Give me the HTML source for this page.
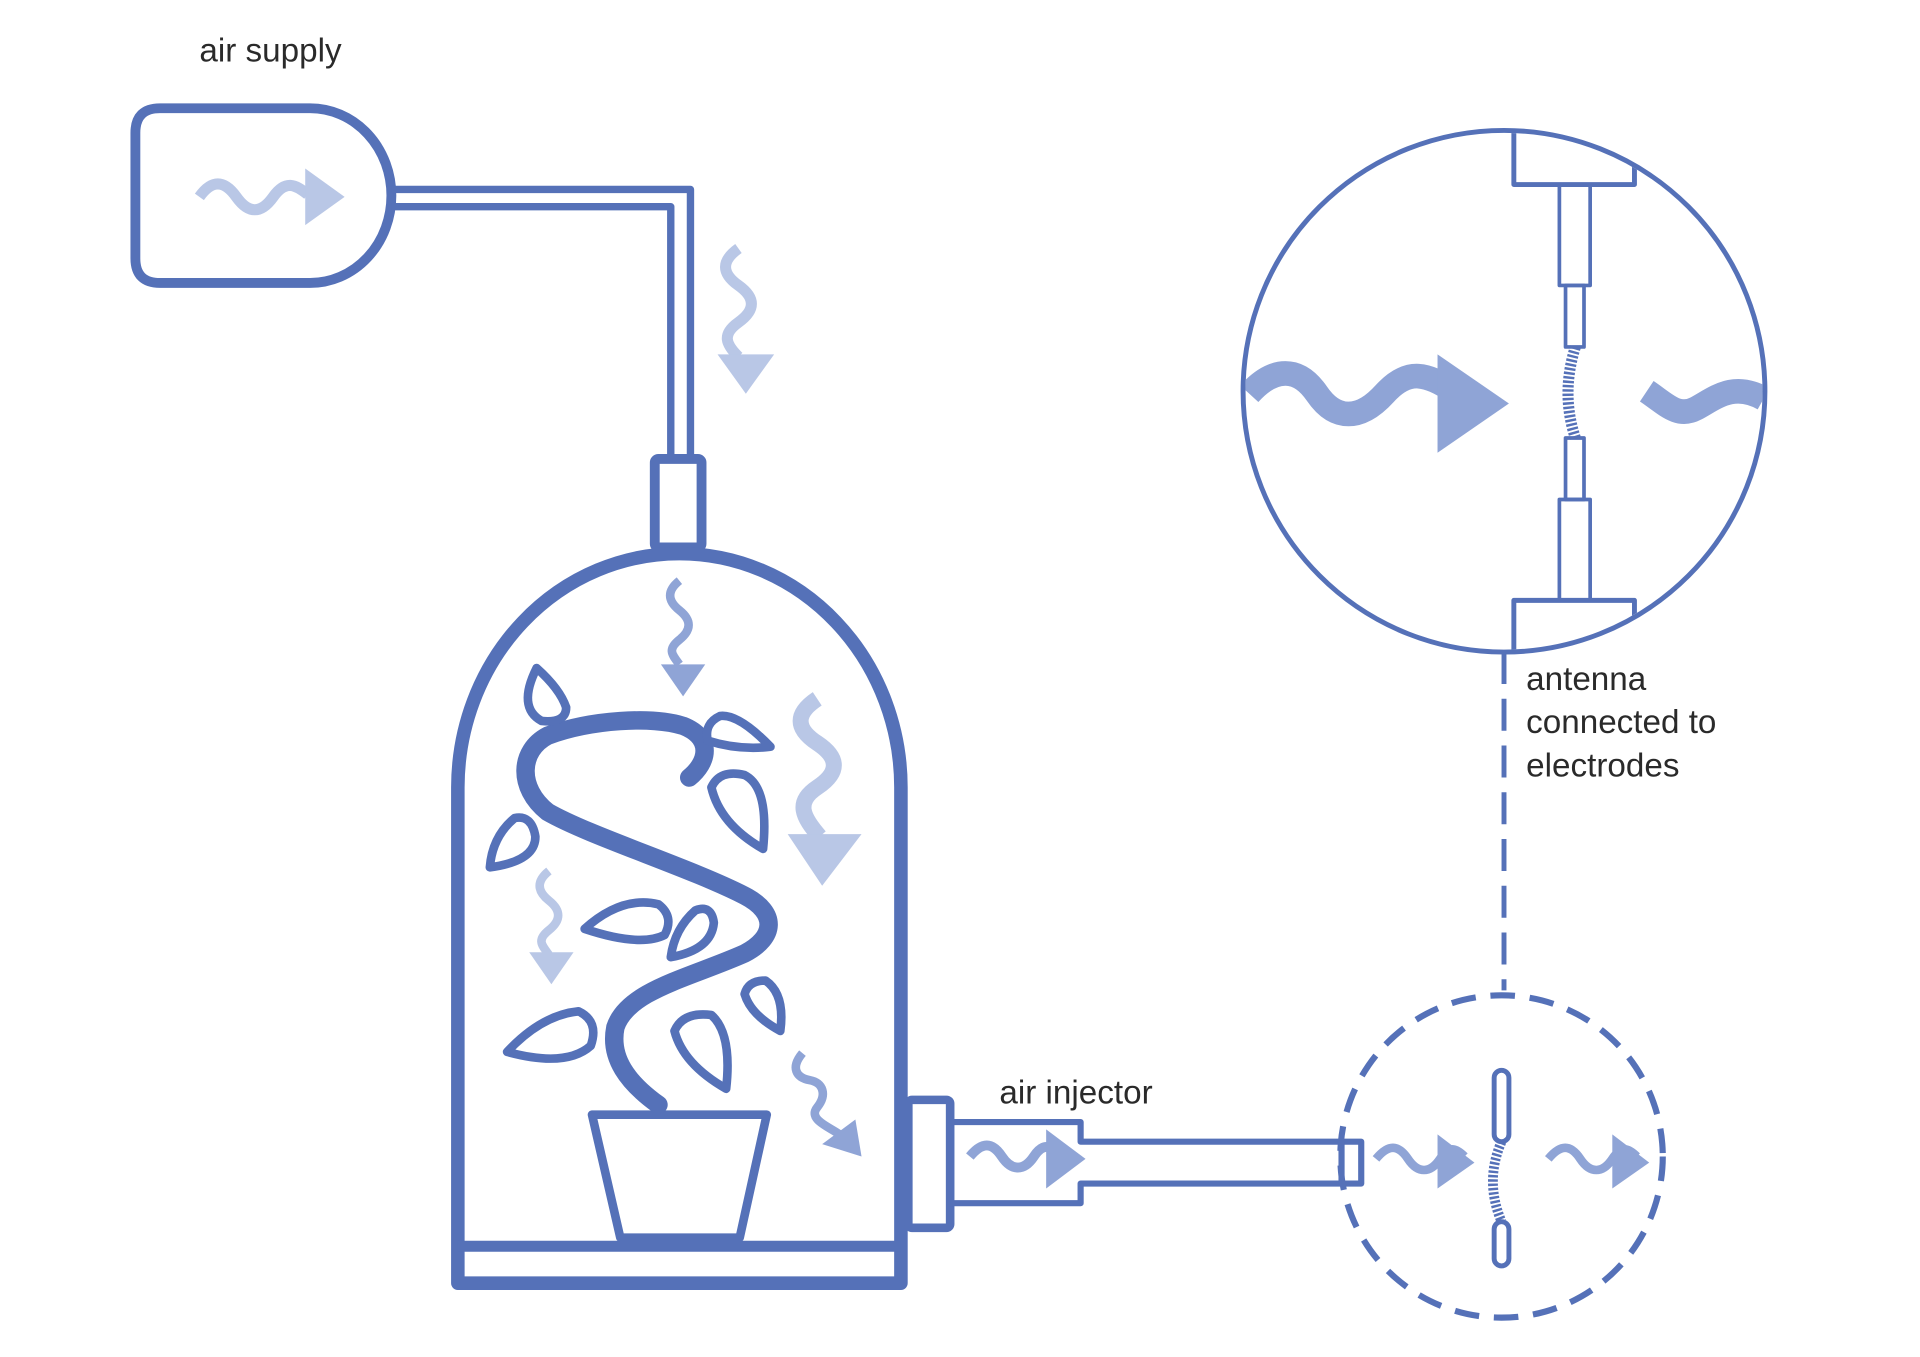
<!DOCTYPE html>
<html><head><meta charset="utf-8"><style>
html,body{margin:0;padding:0;background:#fff;}
svg{display:block;}
text{font-family:"Liberation Sans",Arial,sans-serif;fill:#2a2a2a;font-size:27px;}
</style></head><body>
<svg width="1920" height="1357" viewBox="0 0 1560 1103" preserveAspectRatio="none" xmlns="http://www.w3.org/2000/svg">
<defs><clipPath id="bc"><circle cx="1222" cy="318" r="210"/></clipPath></defs>
<g fill="none" stroke="#5571b8" stroke-linejoin="round">
<path d="M130 88 H252 A66 71 0 0 1 318 159 A66 71 0 0 1 252 230 H130 Q110 230 110 210 V108 Q110 88 130 88Z" stroke-width="8"/>
<path d="M318 154 H561 V372" stroke-width="6"/>
<path d="M318 168 H545 V372" stroke-width="6"/>
<rect x="532" y="373" width="38" height="72" rx="3" stroke-width="8"/>
<path d="M372 1043 V640 A180 190 0 0 1 732 640 V1043 Z" stroke-width="11"/>
<line x1="372" y1="1013" x2="732" y2="1013" stroke-width="9"/>
<path d="M481 906 H623 L601 1006 H504 Z" stroke-width="7"/>
<path d="M535 898 C510 880 495 860 500 835 C510 805 560 795 605 775 C630 762 632 742 605 728 C560 705 480 680 445 660 C420 640 422 610 445 598 C480 585 530 582 555 590 C580 600 575 620 560 632" stroke-width="15" stroke-linecap="round"/>
<g stroke-width="7">
<path d="M436 543 Q420 575 440 586 Q460 588 460 575 Q455 560 436 543Z"/>
<path d="M626 607 Q600 580 585 582 Q572 588 575 602 Q600 610 626 607Z"/>
<path d="M620 690 Q625 640 605 630 Q585 625 578 640 Q585 670 620 690Z"/>
<path d="M398 705 Q435 700 435 680 Q432 662 418 665 Q400 680 398 705Z"/>
<path d="M475 755 Q520 770 540 760 Q548 745 535 735 Q505 728 475 755Z"/>
<path d="M545 778 Q578 772 580 750 Q578 735 565 740 Q548 755 545 778Z"/>
<path d="M634 838 Q638 808 622 797 Q608 797 605 808 Q610 825 634 838Z"/>
<path d="M412 855 Q460 868 480 850 Q487 830 470 822 Q440 825 412 855Z"/>
<path d="M590 885 Q595 840 578 825 Q555 822 548 838 Q555 865 590 885Z"/>
</g>
<rect x="738" y="894" width="34" height="104" rx="3" stroke-width="7"/>
<path d="M772 912 H878 V928 H1106 V962 H878 V978 H772" stroke-width="5"/>
<line x1="1090" y1="928" x2="1090" y2="962" stroke-width="5"/>
<circle cx="1220" cy="940" r="131" stroke-width="5" stroke-dasharray="20 12"/>
<line x1="1222" y1="530" x2="1222" y2="805" stroke-width="4" stroke-dasharray="26 12"/>
<rect x="1214" y="870" width="12" height="58" rx="6" stroke-width="4"/>
<rect x="1214" y="993" width="12" height="36" rx="6" stroke-width="4"/>
<path d="M1220 928 Q1206 960 1220 993" stroke-width="8" stroke-dasharray="2 1.5"/>
<circle cx="1222" cy="318" r="212" stroke-width="4"/>
<g clip-path="url(#bc)" stroke-width="4">
<rect x="1230" y="90" width="98" height="60"/>
<rect x="1230" y="488" width="98" height="60"/>
</g>
<g stroke-width="3">
<rect x="1267" y="150" width="25" height="82"/>
<rect x="1272" y="232" width="15" height="50"/>
<rect x="1267" y="406" width="25" height="82"/>
<rect x="1272" y="356" width="15" height="50"/>
<path d="M1280 282 Q1268 320 1280 356" stroke-width="9" stroke-dasharray="2 1.5"/>
</g>
</g>
<g fill="none" stroke-linecap="butt">
<path d="M162 160 c10 -14 20 -14 30 0 s20 14 30 0 s18 -10 28 -2" stroke="#b9c7e6" stroke-width="9"/>
<path d="M600 202 c-14 10 -14 20 0 30 s14 20 0 30 s-10 18 0 28" stroke="#b9c7e6" stroke-width="9"/>
<path d="M552 472 c-10 8 -10 16 0 24 s10 16 0 24 s-6 12 0 20" stroke="#8fa4d6" stroke-width="7"/>
<path d="M664 568 c-18 12 -18 24 0 36 s18 24 0 36 s-12 24 2 40" stroke="#b9c7e6" stroke-width="13"/>
<path d="M446 708 c-10 8 -10 16 0 24 s10 16 0 24 s-6 12 0 20" stroke="#b9c7e6" stroke-width="7"/>
<path d="M652 856 c-10 12 -5 20 6 22 s14 12 6 22 s10 16 18 22" stroke="#8fa4d6" stroke-width="7"/>
<path d="M788 940 c10 -12 18 -12 26 0 s18 12 26 0 s14 -8 20 -2" stroke="#8fa4d6" stroke-width="8"/>
<path d="M1118 942 c10 -12 18 -12 26 0 s18 12 26 0 s14 -8 20 -2" stroke="#8fa4d6" stroke-width="7"/>
<path d="M1258 942 c10 -12 18 -12 26 0 s18 12 26 0 s14 -8 20 -2" stroke="#8fa4d6" stroke-width="7"/>
<g clip-path="url(#bc)">
<path d="M1015 320 c20 -22 40 -22 55 0 s35 22 55 0 s35 -15 55 -3" stroke="#8fa4d6" stroke-width="20"/>
<path d="M1338 318 c15 10 25 22 40 14 s30 -22 55 -8" stroke="#8fa4d6" stroke-width="20"/>
</g>
</g>
<g>
<polygon points="248,137 280,160 248,183" fill="#b9c7e6"/>
<polygon points="583,288 629,288 606,320" fill="#b9c7e6"/>
<polygon points="537,540 573,540 555,566" fill="#8fa4d6"/>
<polygon points="640,678 700,678 668,720" fill="#b9c7e6"/>
<polygon points="430,774 466,774 448,800" fill="#b9c7e6"/>
<polygon points="668,930 695,910 700,940" fill="#8fa4d6"/>
<polygon points="850,918 882,942 850,966" fill="#8fa4d6"/>
<polygon points="1168,922 1198,945 1168,966" fill="#8fa4d6"/>
<polygon points="1310,922 1340,945 1310,966" fill="#8fa4d6"/>
<polygon points="1168,288 1226,328 1168,368" fill="#8fa4d6"/>
</g>
<text x="162" y="50">air supply</text>
<text x="812" y="897">air injector</text>
<text x="1240" y="561">antenna</text>
<text x="1240" y="596">connected to</text>
<text x="1240" y="631">electrodes</text>
</svg>
</body></html>
